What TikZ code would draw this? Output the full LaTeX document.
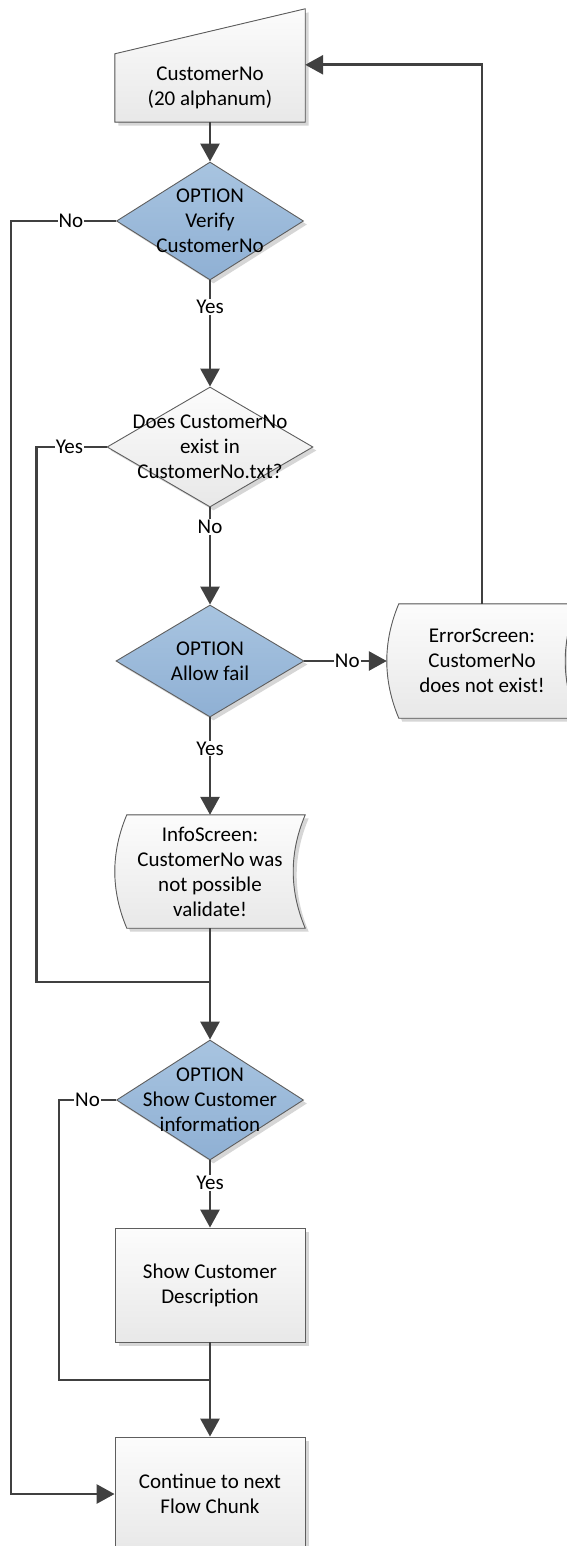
\documentclass[tikz,border=0pt]{standalone}
\usepackage{xcolor}
\usepackage{fontspec}
\setmainfont{Carlito}
\usepackage{tikz}
\usetikzlibrary{calc,shapes.geometric,arrows.meta,shadows}

\definecolor{lineclr}{HTML}{404040}
\definecolor{edgeclr}{HTML}{5E5E5E}
\definecolor{optiontop}{HTML}{A8C4E0}
\definecolor{optionbot}{HTML}{8FB0D4}
\definecolor{boxtop}{HTML}{FCFCFC}
\definecolor{boxbot}{HTML}{E8E8E8}

\pgfdeclarelayer{bg}
\pgfsetlayers{bg,main}

\tikzset{
    base/.style={draw=edgeclr, line width=0.9pt, top color=boxtop, bottom color=boxbot,
        drop shadow={shadow xshift=3.5pt, shadow yshift=-3.5pt, fill=black!16, opacity=1}},
    proc/.style={base, rectangle, minimum width=190pt, minimum height=114pt, align=center},
    screen/.style={base},
    screentext/.style={rectangle, minimum width=190pt, minimum height=114pt, inner sep=0pt, align=center},
    decision/.style={base, diamond, inner sep=0pt},
    option/.style={decision, top color=optiontop, bottom color=optionbot},
    opttext/.style={align=center, inner sep=0pt},
    link/.style={draw=lineclr, line width=2.8pt},
    arr/.style={link, -{Triangle[length=18pt,width=19pt]}},
    lbl/.style={fill=white, inner sep=1pt}
}

\begin{document}
\begin{tikzpicture}[x=1pt, y=-1pt, font=\fontsize{21}{25}\selectfont]
        \useasboundingbox (0,0) rectangle (567,1546);

        % shapes
        \node[screentext, minimum height=68pt] (cust) at (210,88) {CustomerNo\\(20 alphanum)};
        \node[option, minimum width=187pt, minimum height=118pt,
            label={[opttext]center:OPTION\\Verify\\CustomerNo}] (verify) at (210,221) {};
        \node[decision, minimum width=206pt, minimum height=120pt,
            label={[opttext]center:Does CustomerNo\\exist in\\CustomerNo.txt?}] (exists) at (210,447) {};
        \node[option, minimum width=188pt, minimum height=112pt,
            label={[opttext]center:OPTION\\Allow fail}] (allow) at (210,661) {};
        \node[screentext] (err) at (482,661) {ErrorScreen:\\CustomerNo\\does not exist!};
        \node[screentext, minimum height=113pt] (info) at (210,871.5) {InfoScreen:\\CustomerNo was\\not possible\\validate!};
        \node[option, minimum width=187pt, minimum height=120pt,
            label={[opttext]center:OPTION\\Show Customer\\information}] (show) at (210,1100) {};
        \node[proc] (descr) at (210,1285) {Show Customer\\Description};
        \node[proc] (next) at (210,1494) {Continue to next\\Flow Chunk};

        \coordinate (j1) at (210,982);
        \coordinate (j2) at (210,1380);

        % outlines of the input and screen shapes
        \begin{pgfonlayer}{bg}
            \filldraw[screen] (cust.south west) -- (cust.north west) -- ($(cust.north east)+(0,-45)$) -- (cust.south east) -- cycle;
            \foreach \s in {err,info}
                \filldraw[screen] ($(\s.north west)+(12,0)$) -- (\s.north east)
                    .. controls +(-16,38) and +(-16,-38) .. (\s.south east)
                    -- ($(\s.south west)+(12,0)$)
                    .. controls +(-16,-38) and +(-16,38) .. ($(\s.north west)+(12,0)$) -- cycle;
        \end{pgfonlayer}

        % connectors
        \draw[arr] (cust.south) -- (verify.north);
        \draw[arr] (verify.south) -- node[lbl, pos=0.25] {Yes} (exists.north);
        \draw[arr] (verify.west) -- node[lbl, pos=0.43] {No} ++(-105,0) |- (next.west);
        \draw[arr] (exists.south) -- node[lbl, pos=0.2] {No} (allow.north);
        \draw[link] (exists.west) -- node[lbl, pos=0.53] {Yes} ++(-70,0) |- (j1);
        \draw[arr] (allow.east) -- node[lbl, pos=0.52] {No} (err.west);
        \draw[arr] (allow.south) -- node[lbl, pos=0.32] {Yes} (info.north);
        \draw[arr] (err.north) |- ($(cust.north east)+(0,11)$);
        \draw[arr] (info.south) -- (show.north);
        \draw[link] (show.west) -- node[lbl, pos=0.5] {No} ++(-57,0) |- (j2);
        \draw[arr] (show.south) -- node[lbl, pos=0.34] {Yes} (descr.north);
        \draw[arr] (descr.south) -- (next.north);
    \end{tikzpicture}
\end{document}
